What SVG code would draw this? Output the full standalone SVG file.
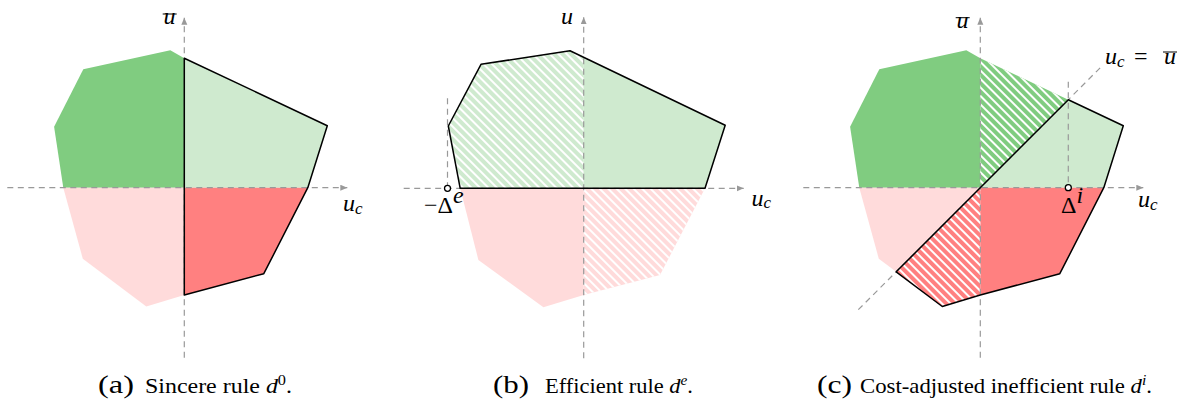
<svg xmlns="http://www.w3.org/2000/svg" width="1185" height="402" viewBox="0 0 1185 402">
<style>
.dg{fill:#80cc80}
.lg{fill:#cfeacf}
.pk{fill:#ffdbdb}
.rd{fill:#ff8080}
.hx{fill:url(#stripes)}
.ax{stroke:#999;stroke-width:1.2;stroke-dasharray:6 4.5;fill:none}
.ol{stroke:#000;stroke-width:1.5;fill:none;stroke-linejoin:round}
text{font-family:"Liberation Serif","DejaVu Serif",serif;fill:#000}
.mi{font-style:italic;font-size:24px}
.rm{font-style:normal;font-size:24px}
.cap{font-size:22px}
.par{font-size:25px}
.dot{fill:#fff;stroke:#000;stroke-width:1.3}
.bar{stroke:#000;stroke-width:1}
</style>
<defs>
<pattern id="stripes" patternUnits="userSpaceOnUse" width="6" height="6" patternTransform="rotate(45)">
<rect x="0" y="0" width="6" height="2" fill="#fff"/>
</pattern>
<marker id="arr" markerUnits="userSpaceOnUse" markerWidth="9" markerHeight="8" refX="7" refY="3" orient="auto">
<path d="M0,0 L7,3 L0,6 z" fill="#999"/>
</marker>
</defs>

<!-- Panel a -->
<g id="panel-a" transform="translate(184.3,187.7)">
<polygon class="dg" points="-121,0 -130.2,-61 -101,-118.4 -14,-137.5 0,-129.5 0,0"/>
<polygon class="lg" points="0,0 0,-129.5 143,-62 123.5,0"/>
<polygon class="rd" points="0,0 123.5,0 79.5,86 0,107.3"/>
<polygon class="pk" points="0,0 0,107.3 -38,118.8 -101.5,71 -121,0"/>
<g id="axes-a">
<line class="ax" x1="-177" y1="0" x2="163" y2="0" marker-end="url(#arr)"/>
<line class="ax" x1="0" y1="170" x2="0" y2="-170" marker-end="url(#arr)"/>
</g>
<path class="ol" d="M0,-129.5 L143,-62 L123.5,0 L79.5,86 L0,107.3 Z"/>
</g>
<g id="labels-a">
<text class="mi" x="163.5" y="24.3">u</text>
<line class="bar" x1="162.7" y1="14" x2="176.7" y2="14"/>
<text class="mi" x="343" y="210.7">u<tspan font-size="17" dy="3">c</tspan></text>
</g>

<!-- Panel b -->
<g id="panel-b" transform="translate(583.7,188.3)">
<polygon class="lg" points="0,0 -123.5,0 -135.4,-62.3 -102.7,-124 -13.7,-137.6 0,-131"/>
<polygon class="hx" points="0,0 -123.5,0 -135.4,-62.3 -102.7,-124 -13.7,-137.6 0,-131"/>
<polygon class="lg" points="0,0 0,-131 141.5,-63 121.3,0"/>
<polygon class="pk" points="0,0 121.3,0 76.3,86.7 0,106.7"/>
<polygon class="hx" points="0,0 121.3,0 76.3,86.7 0,106.7"/>
<polygon class="pk" points="0,0 0,106.7 -40.3,119 -105.3,71.7 -123.5,0"/>
<g id="axes-b">
<line class="ax" x1="-180" y1="0" x2="160" y2="0" marker-end="url(#arr)"/>
<line class="ax" x1="0" y1="170" x2="0" y2="-171" marker-end="url(#arr)"/>
<line class="ax" x1="-136.2" y1="-90" x2="-136.2" y2="0"/>
</g>
<path class="ol" d="M-123.5,0 L-135.4,-62.3 L-102.7,-124 L-13.7,-137.6 L141.5,-63 L121.3,0 Z"/>
<circle class="dot" cx="-136.2" cy="0" r="3"/>
</g>
<g id="labels-b">
<text class="mi" x="561" y="24">u</text>
<text class="mi" x="751.5" y="206">u<tspan font-size="17" dy="2">c</tspan></text>
<text class="rm" x="424" y="213">−Δ<tspan class="mi" font-size="17" dy="-10">e</tspan></text>
</g>

<!-- Panel c -->
<g id="panel-c" transform="translate(980.3,187.7)">
<polygon class="dg" points="-121,0 -130.2,-61 -101,-118.4 -14,-137.5 0,-129.5 0,0"/>
<polygon class="dg" points="0,0 0,-129.5 88,-88"/>
<polygon class="hx" points="0,0 0,-129.5 88,-88"/>
<polygon class="lg" points="0,0 88,-88 143,-62 123.5,0"/>
<polygon class="rd" points="0,0 123.5,0 79.5,86 0,107.3"/>
<polygon class="rd" points="0,0 0,107.3 -38,118.8 -84.1,84.1"/>
<polygon class="hx" points="0,0 0,107.3 -38,118.8 -84.1,84.1"/>
<polygon class="pk" points="0,0 -84.1,84.1 -101.5,71 -121,0"/>
<g id="axes-c">
<line class="ax" x1="-177" y1="0" x2="163" y2="0" marker-end="url(#arr)"/>
<line class="ax" x1="0" y1="170" x2="0" y2="-170" marker-end="url(#arr)"/>
<line class="ax" x1="-122" y1="122" x2="123" y2="-123"/>
<line class="ax" x1="88" y1="-106" x2="88" y2="0"/>
</g>
<path class="ol" d="M-84.1,84.1 L88,-88 L143,-62 L123.5,0 L79.5,86 L0,107.3 L-38,118.8 Z"/>
<circle class="dot" cx="88" cy="0" r="3"/>
</g>
<g id="labels-c">
<text class="mi" x="956.5" y="28">u</text>
<line class="bar" x1="955.7" y1="17.7" x2="969.7" y2="17.7"/>
<text class="mi" x="1138" y="207">u<tspan font-size="17" dy="3">c</tspan></text>
<text class="rm" x="1061" y="213">Δ<tspan class="mi" font-size="17" dy="-10">i</tspan></text>
<text class="mi" x="1105" y="64">u<tspan font-size="17" dy="3">c</tspan></text>
<text class="rm" x="1134" y="64">=</text>
<text class="mi" x="1164" y="64">u</text>
<line class="bar" x1="1163" y1="52" x2="1177" y2="52"/>
</g>

<!-- Captions -->
<g id="caption-a">
<text class="par" x="98" y="393" textLength="36" lengthAdjust="spacingAndGlyphs">(a)</text>
<text class="cap" x="145" y="393" textLength="147" lengthAdjust="spacingAndGlyphs">Sincere rule <tspan font-style="italic">d</tspan><tspan font-size="15" dy="-8">0</tspan><tspan dy="8">.</tspan></text>
</g>
<g id="caption-b">
<text class="par" x="493" y="393" textLength="36" lengthAdjust="spacingAndGlyphs">(b)</text>
<text class="cap" x="545" y="393" textLength="148" lengthAdjust="spacingAndGlyphs">Efficient rule <tspan font-style="italic">d</tspan><tspan font-size="15" font-style="italic" dy="-8">e</tspan><tspan dy="8">.</tspan></text>
</g>
<g id="caption-c">
<text class="par" x="817" y="393" textLength="35" lengthAdjust="spacingAndGlyphs">(c)</text>
<text class="cap" x="860" y="393" textLength="292" lengthAdjust="spacingAndGlyphs">Cost-adjusted inefficient rule <tspan font-style="italic">d</tspan><tspan font-size="15" font-style="italic" dy="-8">i</tspan><tspan dy="8">.</tspan></text>
</g>
</svg>
